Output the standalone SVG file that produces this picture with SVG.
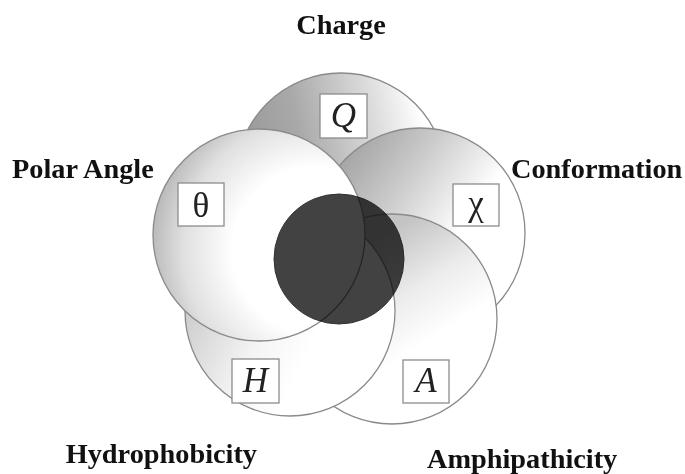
<svg xmlns="http://www.w3.org/2000/svg" width="685" height="474" viewBox="0 0 685 474">
<style>
.ring{stroke:#8a8a8a;stroke-width:1.3}
.box{fill:#fff;stroke:#8c8c8c;stroke-width:1.3}
.lbl{font-family:"Liberation Serif","Times New Roman",serif;font-weight:bold;font-size:28.3px;fill:#111}
.sym{font-family:"Liberation Serif","Times New Roman",serif;font-size:35px;fill:#222;text-anchor:middle}
.it{font-style:italic}
.core{fill:#424242;stroke:#333;stroke-width:1;mix-blend-mode:multiply}
</style>
<defs>
<linearGradient id="gQ" gradientUnits="userSpaceOnUse" x1="240" y1="170" x2="425" y2="130">
<stop offset="0" stop-color="#979797"/><stop offset="0.35" stop-color="#a9a9a9"/><stop offset="0.75" stop-color="#dcdcdc"/><stop offset="1" stop-color="#ffffff"/>
</linearGradient>
<radialGradient id="gP" gradientUnits="userSpaceOnUse" cx="315" cy="250" r="165">
<stop offset="0" stop-color="#ffffff"/><stop offset="0.5" stop-color="#ffffff"/><stop offset="0.8" stop-color="#e0e0e0"/><stop offset="1" stop-color="#b8b8b8"/>
</radialGradient>
<linearGradient id="gC" gradientUnits="userSpaceOnUse" x1="340" y1="165" x2="450" y2="245">
<stop offset="0" stop-color="#a6a6a6"/><stop offset="0.45" stop-color="#cbcbcb"/><stop offset="1" stop-color="#ffffff"/>
</linearGradient>
<linearGradient id="gH" gradientUnits="userSpaceOnUse" x1="185" y1="315" x2="300" y2="370">
<stop offset="0" stop-color="#cdcdcd"/><stop offset="0.6" stop-color="#f4f4f4"/><stop offset="1" stop-color="#ffffff"/>
</linearGradient>
<linearGradient id="gA" gradientUnits="userSpaceOnUse" x1="385" y1="235" x2="445" y2="330">
<stop offset="0" stop-color="#c4c4c4"/><stop offset="0.55" stop-color="#ececec"/><stop offset="1" stop-color="#ffffff"/>
</linearGradient>
</defs>
<rect width="685" height="474" fill="#fff"/>
<g id="charge">
<circle class="ring" cx="341" cy="178" r="105" fill="url(#gQ)"/>
</g>
<g id="conformation">
<circle class="ring" cx="420" cy="233" r="105" fill="url(#gC)"/>
</g>
<g id="amphipathicity">
<circle class="ring" cx="392" cy="319" r="105" fill="url(#gA)"/>
</g>
<g id="hydrophobicity">
<circle class="ring" cx="290" cy="311" r="105" fill="url(#gH)"/>
</g>
<g id="polar-angle">
<circle class="ring" cx="259" cy="235" r="106" fill="url(#gP)"/>
</g>
<g id="core">
<circle class="core" cx="339" cy="259" r="65"/>
</g>
<g id="symbols">
<rect class="box" x="320" y="94" width="47" height="44"/>
<text class="sym it" x="343.5" y="127">Q</text>
<rect class="box" x="178" y="183" width="46" height="43"/>
<text class="sym" x="201" y="217">θ</text>
<rect class="box" x="453" y="184" width="46" height="42"/>
<text class="sym" x="476" y="215">χ</text>
<rect class="box" x="232" y="359" width="47" height="44"/>
<text class="sym it" x="255.5" y="392">H</text>
<rect class="box" x="403" y="360" width="46" height="43"/>
<text class="sym it" x="426" y="392">A</text>
</g>
<g id="labels">
<text class="lbl" x="341" y="34" text-anchor="middle">Charge</text>
<text class="lbl" x="12" y="178">Polar Angle</text>
<text class="lbl" x="511" y="178">Conformation</text>
<text class="lbl" x="257" y="463" text-anchor="end">Hydrophobicity</text>
<text class="lbl" x="427" y="468">Amphipathicity</text>
</g>
</svg>
